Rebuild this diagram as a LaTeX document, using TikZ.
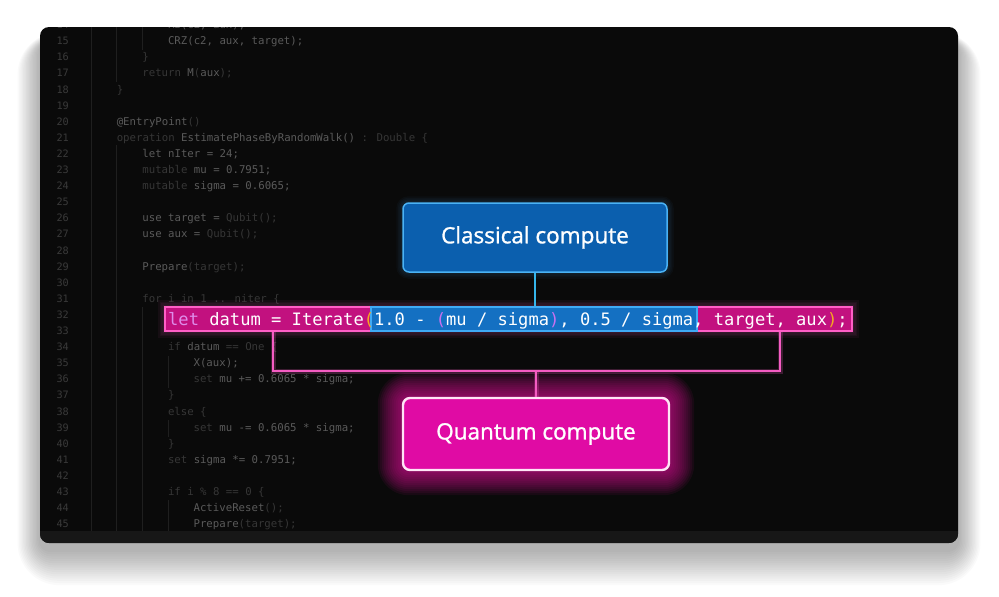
\documentclass[tikz,border=0pt]{standalone}
\usepackage{fontspec}
\newfontfamily\codefont{DejaVu Sans Mono}
\newfontfamily\boxfont[FakeBold=1.2]{Open Sans}
\usetikzlibrary{calc}
\pgfdeclarelayer{back}
\pgfdeclarelayer{glow}
\pgfsetlayers{back,glow,main}
\definecolor{winbg}{HTML}{0A0A0A}
\definecolor{winbar}{HTML}{171717}
\definecolor{guidec}{HTML}{1F1F1F}
\definecolor{lnumc}{HTML}{3A3A3A}
\definecolor{cdim}{HTML}{363636}
\definecolor{cmid}{HTML}{5A5A5A}
\definecolor{hlpfill}{HTML}{C2117F}
\definecolor{hlpline}{HTML}{FF5EC6}
\definecolor{hlbfill}{HTML}{1470C2}
\definecolor{hlbline}{HTML}{3FAAF5}
\definecolor{clfill}{HTML}{0B5FAE}
\definecolor{clline}{HTML}{4AB2F5}
\definecolor{qfill}{HTML}{E00BA4}
\definecolor{qline}{HTML}{FFE4F6}
\definecolor{qglow}{HTML}{E8149F}
\definecolor{brc}{HTML}{F45CC2}
\definecolor{conbc}{HTML}{35B5EA}
\definecolor{letc}{HTML}{DE8CEA}
\definecolor{paro}{HTML}{F5A623}
\definecolor{parp}{HTML}{C870F0}
\newcommand\cdm[1]{\textcolor{cdim}{#1}}
\newcommand\codeln[3]{%
  \node[lnum] (n#1) at (69,{42+(#1-15)*16.1}) {#1};
  \node[code] (c#1) at ({91+#2*25.6},{42+(#1-15)*16.1}) {#3};}
\newcommand\numln[1]{%
  \node[lnum] (n#1) at (69,{42+(#1-15)*16.1}) {#1};}
\begin{document}
\begin{tikzpicture}[x=1pt,y=-1pt,
  lnum/.style={anchor=east, inner sep=0pt, text height=7.5pt, text depth=2pt,
    font=\codefont\fontsize{10.2}{12}\selectfont, text=lnumc},
  code/.style={anchor=west, inner sep=0pt, text height=7.5pt, text depth=2pt,
    font=\codefont\fontsize{10.7}{12}\selectfont, text=cmid},
  guide/.style={draw=guidec, line width=0.8pt},
  hlp/.style={fill=hlpfill, draw=hlpline, line width=1.2pt, inner sep=0pt,
    minimum width=687pt, minimum height=24pt},
  hlb/.style={fill=hlbfill, draw=hlbline, line width=1.2pt, inner sep=0pt,
    minimum width=326pt, minimum height=24pt},
  bigcode/.style={anchor=west, inner sep=0pt, text height=12pt, text depth=3pt,
    font=\codefont\fontsize{17.1}{20}\selectfont, text=white},
  clbox/.style={fill=clfill, draw=clline, line width=1.5pt, rounded corners=6pt,
    minimum width=264pt, minimum height=69pt, text=white,
    font=\boxfont\fontsize{22.5}{26}\selectfont},
  qbox/.style={fill=qfill, draw=qline, line width=2.4pt, rounded corners=7pt,
    minimum width=266pt, minimum height=72pt, text=white,
    font=\boxfont\fontsize{22.5}{26}\selectfont},
  conb/.style={draw=conbc, line width=2pt},
  conp/.style={draw=brc, line width=2pt},
  conpglow/.style={draw=brc, line width=5pt, opacity=0.22}
]
\useasboundingbox (0,0) rectangle (999,597);
\begin{pgfonlayer}{back}
\fill[white] (0,0) rectangle (999,597);
% window shadow
\foreach \i in {1,...,16} {
  \fill[black, opacity=0.02, rounded corners={10+\i*2}]
    ({40-\i*1.4},{42-\i*0.6}) rectangle ({958+\i*1.4},{550+\i*2.2});
}
% window
\fill[winbg, rounded corners=9pt] (40,27) rectangle (958,543);
\begin{scope}
  \clip[rounded corners=9pt] (40,27) rectangle (958,543);
  \fill[winbar] (40,531) rectangle (958,543);
\end{scope}
\begin{scope}
  \clip (40,27) rectangle (958,531);
  % indentation guides
  \draw[guide] (91,27) -- (91,531);
  \draw[guide] (116.7,27) -- (116.7,82);
  \draw[guide] (116.7,145) -- (116.7,531);
  \draw[guide] (142.7,27) -- (142.7,50);
  \draw[guide] (142.7,307) -- (142.7,531);
  \draw[guide] (168.3,356) -- (168.3,388);
  \draw[guide] (168.3,420) -- (168.3,437);
  \draw[guide] (168.3,500) -- (168.3,531);
  % code lines
  \codeln{14}{3}{Rz(c2, aux);}
  \codeln{15}{3}{CRZ(c2, aux, target);}
  \codeln{16}{2}{\cdm{\}}}
  \codeln{17}{2}{\cdm{return} M\cdm{(}aux\cdm{);}}
  \codeln{18}{1}{\cdm{\}}}
  \numln{19}
  \codeln{20}{1}{@EntryPoint\cdm{()}}
  \codeln{21}{1}{\cdm{operation} EstimatePhaseByRandomWalk() \cdm{: Double \{}}
  \codeln{22}{2}{let nIter = 24;}
  \codeln{23}{2}{\cdm{mutable} mu = 0.7951;}
  \codeln{24}{2}{\cdm{mutable} sigma = 0.6065;}
  \numln{25}
  \codeln{26}{2}{use target = \cdm{Qubit();}}
  \codeln{27}{2}{use aux = \cdm{Qubit();}}
  \numln{28}
  \codeln{29}{2}{Prepare\cdm{(target);}}
  \numln{30}
  \codeln{31}{2}{\cdm{for i in 1 .. niter \{}}
  \numln{32}
  \numln{33}
  \codeln{34}{3}{\cdm{if} datum \cdm{== One \{}}
  \codeln{35}{4}{X(aux);}
  \codeln{36}{4}{\cdm{set} mu += 0.6065 * sigma;}
  \codeln{37}{3}{\cdm{\}}}
  \codeln{38}{3}{\cdm{else \{}}
  \codeln{39}{4}{\cdm{set} mu -= 0.6065 * sigma;}
  \codeln{40}{3}{\cdm{\}}}
  \codeln{41}{3}{\cdm{set} sigma *= 0.7951;}
  \numln{42}
  \codeln{43}{3}{\cdm{if i \% 8 == 0 \{}}
  \codeln{44}{4}{ActiveReset\cdm{();}}
  \codeln{45}{4}{Prepare\cdm{(target);}}
\end{scope}
\end{pgfonlayer}

% highlighted line
\node[hlp] (hlpink) at (508.5,319) {};
\node[hlb] (hlblue) at (534,319) {};
\node[bigcode] (bigline) at (168,320.5)
  {\textcolor{letc}{let} datum = Iterate\textcolor{paro}{(}1.0 - \textcolor{parp}{(}mu / sigma\textcolor{parp}{)}, 0.5 / sigma, target, aux\textcolor{paro}{)};};

% boxes
\node[clbox] (classical) at (535,237.5) {Classical compute};
\node[qbox] (quantum) at (536,434) {Quantum compute};

% glows
\begin{pgfonlayer}{glow}
\foreach \i in {1,...,12} {
  \fill[qglow, opacity=0.07, rounded corners={7+\i*2}]
    ($(quantum.south west)+({-\i*2},{\i*2})$) rectangle
    ($(quantum.north east)+({\i*2},{-\i*2})$);
}
\foreach \i in {1,...,4} {
  \fill[clline, opacity=0.035, rounded corners={6+\i*1.5}]
    ($(classical.south west)+({-\i*1.5},{\i*1.5})$) rectangle
    ($(classical.north east)+({\i*1.5},{-\i*1.5})$);
}
\foreach \i in {1,...,4} {
  \fill[hlpline, opacity=0.05]
    ($(hlpink.south west)+({-\i*1.5},{\i*1.5})$) rectangle
    ($(hlpink.north east)+({\i*1.5},{-\i*1.5})$);
}
\end{pgfonlayer}

% connectors
\coordinate (brl) at (273,371);
\coordinate (brr) at (780,371);
\begin{pgfonlayer}{glow}
\draw[conpglow] (hlpink.south -| brl) -- (brl) -- (brr) -- (hlpink.south -| brr);
\draw[conpglow] (quantum.north) -- (quantum.north |- brl);
\end{pgfonlayer}
\draw[conb] (classical.south) -- (classical.south |- hlblue.north);
\draw[conp] (hlpink.south -| brl) -- (brl) -- (brr) -- (hlpink.south -| brr);
\draw[conp] (quantum.north) -- (quantum.north |- brl);
\end{tikzpicture}
\end{document}
